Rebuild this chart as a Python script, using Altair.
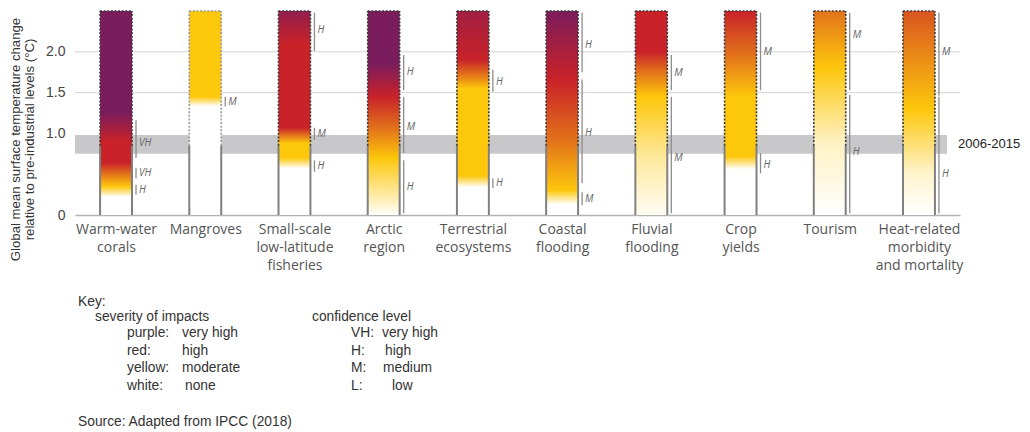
import json
import altair as alt
import pandas as pd

# ---------------- data ----------------
category_lines = [
    ["Warm-water", "corals"],
    ["Mangroves"],
    ["Small-scale", "low-latitude", "fisheries"],
    ["Arctic", "region"],
    ["Terrestrial", "ecosystems"],
    ["Coastal", "flooding"],
    ["Fluvial", "flooding"],
    ["Crop", "yields"],
    ["Tourism"],
    ["Heat-related", "morbidity", "and mortality"],
]
bar_top = 2.5            # top of each bar (°C)
observed_level = 0.85    # level up to which bars have solid outline

# severity along each bar: temperature (°C) and severity level
# (0 = none/white, 1 = moderate/yellow, 2 = high/red, 3 = very high/purple)
severity_temps = [
    [0, 0.22, 0.35, 0.50, 0.64, 0.90, 1.25, 2.5],
    [0, 1.33, 1.45, 2.5],
    [0, 0.57, 0.70, 0.88, 1.07, 2.10, 2.5],
    [0, 0.12, 0.70, 1.05, 1.45, 1.85, 2.5],
    [0, 0.34, 0.48, 1.55, 1.72, 1.90, 2.5],
    [0, 0.13, 0.30, 0.90, 1.65, 1.85, 2.5],
    [0, 0.70, 1.45, 1.75, 2.00, 2.5],
    [0, 0.56, 0.72, 1.45, 1.95, 2.5],
    [0, 0.90, 1.80, 2.5],
    [0, 0.50, 1.30, 2.00, 2.5],
]
severity_levels = [
    [0, 0, 1, 1.5, 2, 2, 3, 3],
    [0, 0, 1, 1],
    [0, 0, 1, 1, 2, 2, 2.7],
    [0, 0.2, 1, 1.5, 2, 3, 3],
    [0, 0, 1, 1, 1.5, 2, 2.5],
    [0, 0, 1, 1.5, 2, 2.2, 3],
    [0.05, 0.4, 1, 1.5, 2, 2],
    [0, 0, 1, 1, 1.5, 2],
    [0, 0.25, 1, 1.5],
    [0, 0.2, 1, 1.4, 1.7],
]

band_low, band_high = 0.75, 0.98
band_label = "2006-2015"
gridline_levels = [1.5, 2.0]

conf_bar = [0, 0, 0, 1, 2, 2, 2, 3, 3, 3, 4, 4, 5, 5, 5, 6, 6, 7, 7, 8, 8, 9, 9]
conf_low = [0.70, 0.45, 0.25, 1.33, 2.01, 0.92, 0.53, 1.53, 0.76, 0.02, 1.51, 0.33,
            1.75, 0.39, 0.12, 1.53, 0.02, 1.53, 0.51, 1.53, 0.02, 1.46, 0.02]
conf_high = [1.16, 0.58, 0.37, 1.45, 2.48, 1.07, 0.67, 1.96, 1.45, 0.67, 1.78, 0.45,
             2.48, 1.66, 0.28, 1.96, 1.45, 2.48, 0.76, 2.48, 1.47, 2.48, 1.45]
conf_label = ["VH", "VH", "H", "M", "H", "M", "H", "H", "M", "H", "H", "H",
              "H", "H", "M", "M", "M", "M", "H", "M", "H", "M", "H"]
conf_label_at = [0.88, 0.51, 0.31, 1.39, 2.27, 0.99, 0.60, 1.75, 1.08, 0.34, 1.63, 0.39,
                 2.08, 1.00, 0.20, 1.74, 0.70, 2.00, 0.61, 2.20, 0.77, 2.00, 0.50]

y_title = ["Global mean surface temperature change",
           "relative to pre-industrial levels (°C)"]
y_ticks = [0, 1.0, 1.5, 2.0]

key_title = "Key:"
severity_title = "severity of impacts"
severity_names = ["purple:", "red:", "yellow:", "white:"]
severity_meanings = ["very high", "high", "moderate", "none"]
confidence_title = "confidence level"
confidence_codes = ["VH:", "H:", "M:", "L:"]
confidence_meanings = ["very high", "high", "medium", "low"]
source_note = "Source: Adapted  from IPCC (2018)"

# ---------------- styling / layout ----------------
PLOT_W, PLOT_H = 885, 204
HW = 0.179          # half bar width (x units)
CONF_OFF = 0.224    # offset of confidence lines from bar centre
PALETTE = [(255, 255, 255), (253, 199, 12), (201, 34, 41), (123, 28, 92)]


def level_color(lv):
    k = min(int(lv), 2)
    t = lv - k
    a, b = PALETTE[k], PALETTE[k + 1]
    c = [round(a[j] + (b[j] - a[j]) * t) for j in range(3)]
    return "#%02x%02x%02x" % tuple(c)


def gradient(i):
    return {
        "gradient": "linear", "x1": 0, "y1": 1, "x2": 0, "y2": 0,
        "stops": [{"offset": v / bar_top, "color": level_color(l)}
                  for v, l in zip(severity_temps[i], severity_levels[i])],
    }


xs = alt.Scale(domain=[-0.46, 9.46], nice=False, zero=False)
ys = alt.Scale(domain=[0, bar_top], nice=False, zero=False)

x_axis = alt.Axis(
    values=list(range(len(category_lines))),
    labelExpr=json.dumps(category_lines) + "[datum.value]",
    title=None, ticks=False, grid=False,
    domainColor="#b3b3b3", domainWidth=1.5,
    labelFont="Open Sans", labelFontSize=14, labelColor="#555555",
    labelLineHeight=18, labelPadding=7, labelAngle=0,
    labelOverlap=False, labelFlush=False,
)
y_axis = alt.Axis(
    values=y_ticks,
    labelExpr="datum.value == 0 ? '0' : format(datum.value, '.1f')",
    domain=False, ticks=False, grid=False,
    labelFont="Liberation Sans", labelFontSize=14, labelColor="#444444",
    labelPadding=10,
    title=y_title, titleFont="Liberation Sans", titleFontSize=13.2,
    titleFontWeight="normal", titleColor="#333333", titleAngle=270,
    titleX=-66, titleY=128, titleAlign="center", titleBaseline="top",
    titleLineHeight=14,
)


def X(field):
    return alt.X(field, scale=xs, axis=x_axis)


def Y(field):
    return alt.Y(field, scale=ys, axis=y_axis)


bars_df = pd.DataFrame({
    "idx": list(range(len(category_lines))),
    "base": 0.0,
    "top": bar_top,
    "obs": observed_level,
})
band_df = pd.DataFrame({"lo": [band_low], "hi": [band_high],
                        "mid": [(band_low + band_high) / 2], "label": [band_label]})
grid_df = pd.DataFrame({"g": gridline_levels})
conf_df = pd.DataFrame({"bar": conf_bar, "lo": conf_low, "hi": conf_high,
                        "label": conf_label, "at": conf_label_at})

layers = []

# light gridlines
layers.append(
    alt.Chart(grid_df).mark_rule(color="#d4d4d4", strokeWidth=1).encode(
        x=alt.value(0), x2=alt.value(PLOT_W), y=Y("g:Q"),
    )
)

# grey 2006-2015 band
layers.append(
    alt.Chart(band_df).mark_rect(color="#c8c8ca").encode(
        x=alt.value(0), x2=alt.value(872),
        y=Y("lo:Q"), y2="hi:Q",
    )
)

bars_base = alt.Chart(bars_df).transform_calculate(
    xl=f"datum.idx - {HW}", xr=f"datum.idx + {HW}"
)

# gradient bars
for i in range(len(category_lines)):
    layers.append(
        bars_base.transform_filter(alt.datum.idx == i).mark_rect(
            fill=gradient(i), strokeWidth=0
        ).encode(x=X("xl:Q"), x2="xr:Q", y=Y("base:Q"), y2="top:Q")
    )

# solid lower sides (observed)
for side in ["xl", "xr"]:
    layers.append(
        bars_base.mark_rule(color="#808080", strokeWidth=2).encode(
            x=X(f"{side}:Q"), y=Y("base:Q"), y2="obs:Q",
        )
    )

dot_stroke = alt.condition(alt.datum.idx == 1, alt.value("#9a9a9a"), alt.value("#3a3a3a"))
# dotted upper sides
for side in ["xl", "xr"]:
    layers.append(
        bars_base.mark_rule(strokeWidth=1.6, strokeDash=[2, 1.6]).encode(
            x=X(f"{side}:Q"), y=Y("obs:Q"), y2="top:Q", stroke=dot_stroke,
        )
    )
# dotted top edge
layers.append(
    bars_base.mark_rule(strokeWidth=1.6, strokeDash=[2, 1.6]).encode(
        x=X("xl:Q"), x2="xr:Q", y=Y("top:Q"), stroke=dot_stroke,
    )
)

# confidence lines and labels
conf_base = alt.Chart(conf_df).transform_calculate(cx=f"datum.bar + {CONF_OFF}")
layers.append(
    conf_base.mark_rule(color="#8c8c8c", strokeWidth=1.3).encode(
        x=X("cx:Q"), y=Y("lo:Q"), y2="hi:Q",
    )
)
layers.append(
    conf_base.mark_text(align="left", baseline="middle", dx=3, font="Open Sans",
                        fontStyle="italic", fontSize=10, color="#666666").encode(
        x=X("cx:Q"), y=Y("at:Q"), text="label:N",
    )
)

# band label
layers.append(
    alt.Chart(band_df).mark_text(align="left", baseline="middle", font="Liberation Sans",
                                 fontSize=13, color="#222222").encode(
        x=alt.value(PLOT_W - 2), y=Y("mid:Q"), text="label:N",
    )
)

# key
one = pd.DataFrame({"k": [0]})
OX, OY = 75, 11  # plot origin in page pixels


def key_text(txt, px, py):
    return alt.Chart(one).mark_text(
        text=txt, align="left", baseline="middle", font="Liberation Sans",
        fontSize=13.8, color="#333333",
    ).encode(x=alt.value(px - OX), y=alt.value(py - OY))


row_y = [333, 351, 368, 386]
sev_meaning_x = [182, 182, 182, 185]
conf_meaning_x = [382, 385, 383, 392]
layers.append(key_text(key_title, 78, 302))
layers.append(key_text(severity_title, 95, 317))
layers.append(key_text(confidence_title, 312, 317))
for r in range(4):
    layers.append(key_text(severity_names[r], 127, row_y[r]))
    layers.append(key_text(severity_meanings[r], sev_meaning_x[r], row_y[r]))
    layers.append(key_text(confidence_codes[r], 351, row_y[r]))
    layers.append(key_text(confidence_meanings[r], conf_meaning_x[r], row_y[r]))
layers.append(key_text(source_note, 78, 422))

chart = alt.layer(*layers).properties(
    width=PLOT_W, height=PLOT_H,
    padding={"left": 67, "top": 3, "right": 62, "bottom": 216},
    autosize=alt.AutoSizeParams(type="none"),
).configure(background="white").configure_view(stroke=None)

chart.save("out.html", embed_options={"renderer": "svg", "actions": False})
